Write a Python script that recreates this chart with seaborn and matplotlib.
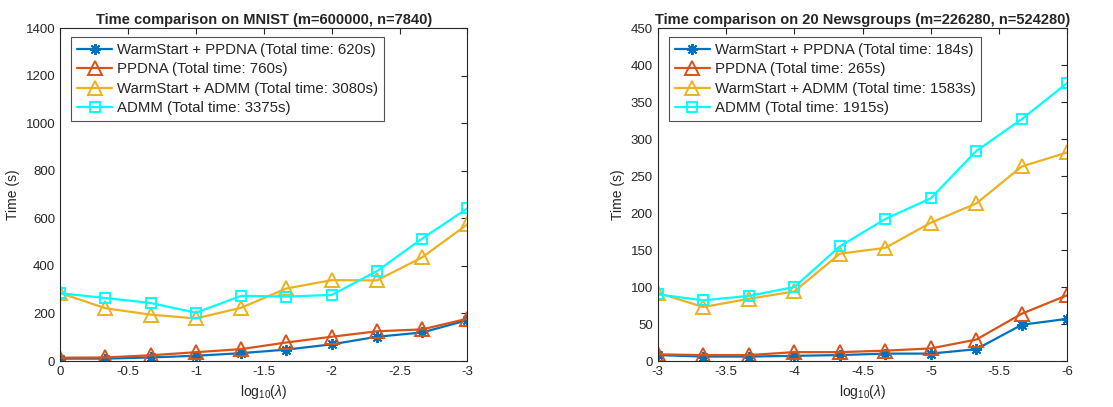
import numpy as np
import pandas as pd
import matplotlib
matplotlib.use('Agg')
import matplotlib.pyplot as plt
import seaborn as sns

# MNIST panel
x_mnist = [0, -1/3, -2/3, -1, -4/3, -5/3, -2, -7/3, -8/3, -3]
mnist_ws_ppdna = [10, 10, 15, 22, 33, 48, 70, 102, 120, 172]
mnist_ppdna = [14, 15, 24, 37, 50, 78, 102, 125, 133, 178]
mnist_ws_admm = [286, 222, 195, 179, 224, 305, 340, 339, 436, 575]
mnist_admm = [285, 265, 244, 203, 274, 271, 278, 378, 515, 642]

# 20 Newsgroups panel
x_news = [-3, -10/3, -11/3, -4, -13/3, -14/3, -5, -16/3, -17/3, -6]
news_ws_ppdna = [8, 6, 6, 7, 8, 10, 10, 16, 49, 57]
news_ppdna = [9, 8, 8, 12, 12, 14, 17, 29, 64, 89]
news_ws_admm = [92, 73, 84, 94, 145, 153, 187, 213, 263, 282]
news_admm = [90, 82, 88, 100, 155, 192, 220, 284, 327, 376]

labels_mnist = ['WarmStart + PPDNA (Total time: 620s)', 'PPDNA (Total time: 760s)',
                'WarmStart + ADMM (Total time: 3080s)', 'ADMM (Total time: 3375s)']
labels_news = ['WarmStart + PPDNA (Total time: 184s)', 'PPDNA (Total time: 265s)',
               'WarmStart + ADMM (Total time: 1583s)', 'ADMM (Total time: 1915s)']

colors = ['#0072BD', '#D95319', '#EDB120', '#00FFFF']
markers = [(8, 2, 0), '^', '^', 's']
msizes = [8, 10, 10, 7]

sns.set_style('white')
plt.rcParams['font.family'] = ['Liberation Sans', 'DejaVu Sans']
plt.rcParams['mathtext.fontset'] = 'custom'
plt.rcParams['mathtext.rm'] = 'Liberation Sans'
plt.rcParams['mathtext.it'] = 'Liberation Sans:italic'

fig = plt.figure(figsize=(11.13, 4.07), dpi=100)
ax1 = fig.add_axes([0.054, 0.113, 0.366, 0.818])
ax2 = fig.add_axes([0.591, 0.113, 0.368, 0.818])

panels = [
    (ax1, x_mnist, [mnist_ws_ppdna, mnist_ppdna, mnist_ws_admm, mnist_admm], labels_mnist,
     'Time comparison on MNIST (m=600000, n=7840)', (0, -3), np.arange(0, -3.01, -0.5), (0, 1400), np.arange(0, 1401, 200)),
    (ax2, x_news, [news_ws_ppdna, news_ppdna, news_ws_admm, news_admm], labels_news,
     'Time comparison on 20 Newsgroups (m=226280, n=524280)', (-3, -6), np.arange(-3, -6.01, -0.5), (0, 450), np.arange(0, 451, 50)),
]

for ax, xs, series, labels, title, xlim, xticks, ylim, yticks in panels:
    for ys, lab, c, m, ms in zip(series, labels, colors, markers, msizes):
        sns.lineplot(x=xs, y=ys, ax=ax, color=c, marker=m, markersize=ms, label=lab,
                     linewidth=1.6, markeredgewidth=1.4, markerfacecolor='none',
                     markeredgecolor=c)
    ax.set_xlim(*xlim)
    ax.set_xticks(xticks)
    ax.set_xticklabels(['%g' % t for t in xticks])
    ax.set_ylim(*ylim)
    ax.set_yticks(yticks)
    ax.set_title(title, fontsize=10.5, fontweight='bold', pad=3)
    ax.set_xlabel(r'log$_{10}$($\lambda$)', fontsize=10, color='#262626')
    ax.set_ylabel('Time (s)', fontsize=10, color='#262626')
    ax.tick_params(direction='in', top=True, right=True, length=4, width=0.8,
                   labelsize=9.5, colors='#262626')
    for sp in ax.spines.values():
        sp.set_color('#262626')
        sp.set_linewidth(0.8)
    leg = ax.legend(loc='upper left', fontsize=10.8, frameon=True, fancybox=False,
                    edgecolor='#262626', borderpad=0.4, labelspacing=0.36,
                    handlelength=2.35, handletextpad=0.3, borderaxespad=0,
                    bbox_to_anchor=(0.027, 0.973))
    leg.get_frame().set_linewidth(0.8)

fig.savefig('out.png', dpi=100)
plt.close(fig)
